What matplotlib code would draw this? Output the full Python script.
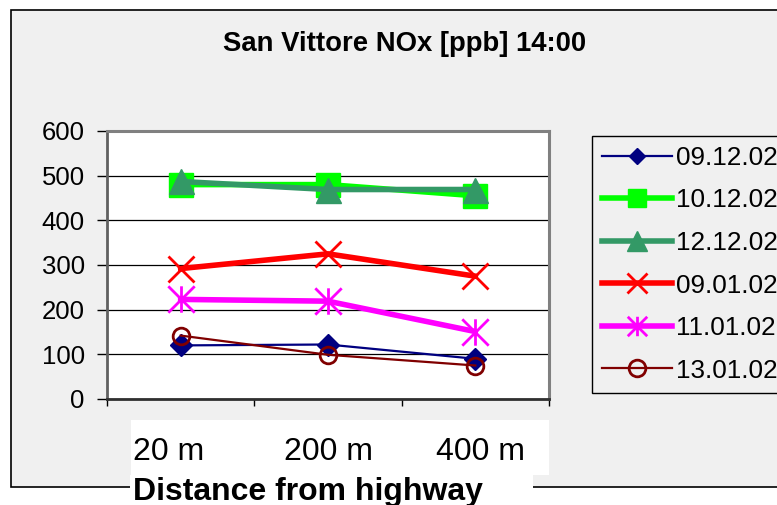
import matplotlib
matplotlib.use("Agg")
import matplotlib.pyplot as plt
from matplotlib.patches import Rectangle
from matplotlib.path import Path
from matplotlib.lines import Line2D
import matplotlib.transforms as mtransforms
import numpy as np

plt.rcParams['font.family'] = ['Liberation Sans', 'DejaVu Sans']

# ---- data ----
distances = ["20 m", "200 m", "400 m"]
dates = ["09.12.02", "10.12.02", "12.12.02", "09.01.02", "11.01.02", "13.01.02"]
s_091202 = [120, 122, 90]
s_101202 = [480, 480, 455]
s_121202 = [487, 469, 469]
s_090102 = [292, 325, 275]
s_110102 = [223, 219, 151]
s_130102 = [142, 99, 75]
series = [s_091202, s_101202, s_121202, s_090102, s_110102, s_130102]
yticks = [0, 100, 200, 300, 400, 500, 600]

W, H = 777, 505
fig = plt.figure(figsize=(W / 100, H / 100), dpi=100)
fig.patch.set_facecolor('white')

def fx(px):
    return px / W

def fy(py):
    return (H - py) / H

# chart area (gray with black border)
fig.patches.append(Rectangle((fx(11), fy(487)), fx(800) - fx(11), fy(10) - fy(487),
                             transform=fig.transFigure, facecolor='#f0f0f0',
                             edgecolor='black', linewidth=1.2, zorder=-10))
# white box behind x tick labels
fig.patches.append(Rectangle((fx(131), fy(475)), fx(549) - fx(131), fy(420) - fy(475),
                             transform=fig.transFigure, facecolor='white',
                             edgecolor='none', zorder=-5))
# white box behind x label
fig.patches.append(Rectangle((fx(130), fy(510)), fx(533) - fx(130), fy(475) - fy(510),
                             transform=fig.transFigure, facecolor='white',
                             edgecolor='none', zorder=-5))

ax = fig.add_axes([fx(107), fy(399), fx(549) - fx(107), fy(131) - fy(399)])
ax.set_facecolor('white')

# asterisk marker
ast = Path([(0, -1), (0, 1), (-1, -1), (1, 1), (-1, 1), (1, -1)],
           [Path.MOVETO, Path.LINETO, Path.MOVETO, Path.LINETO, Path.MOVETO, Path.LINETO])

styles = [
    dict(color='#000080', lw=1.6, marker='D', ms=11, mfc='#000080', mec='#000080'),
    dict(color='#00ff00', lw=4.0, marker='s', ms=17, mfc='#00ff00', mec='#00ff00'),
    dict(color='#339966', lw=4.0, marker='^', ms=18, mfc='#339966', mec='#339966'),
    dict(color='#ff0000', lw=4.0, marker='x', ms=19, mew=2.0, mec='#ff0000'),
    dict(color='#ff00ff', lw=4.0, marker=ast, ms=19, mew=2.0, mec='#ff00ff'),
    dict(color='#800000', lw=1.6, marker='o', ms=12, mew=2.0, mfc='none', mec='#800000'),
]
legend_ms = [8.5, 13.5, 14, 14, 14, 12]

x = np.arange(len(distances))
handles = []
for vals, lab, st, lms in zip(series, dates, styles, legend_ms):
    ax.plot(x, vals, label=lab, solid_joinstyle='miter', clip_on=False, **st)
    st2 = dict(st)
    st2['ms'] = lms
    handles.append(Line2D([], [], **st2))

ax.set_xlim(-0.5, len(distances) - 0.5)
ax.set_ylim(0, 600)
ax.set_yticks(yticks)
ax.set_yticklabels([str(v) for v in yticks])
ax.yaxis.grid(True, color='black', linewidth=0.9)
ax.set_axisbelow(True)
ax.tick_params(axis='y', direction='out', length=7, width=1, pad=9,
               labelsize=18.5, colors='black')

ax.set_xticks(np.arange(-0.5, len(distances)), labels=[])
ax.set_xticks(x, labels=distances, minor=True)
ax.tick_params(axis='x', which='major', direction='out', length=5, width=1)
ax.tick_params(axis='x', which='minor', length=0, pad=27, labelsize=23)
shifts = [-12, 0, 5]
for lbl, dx in zip(ax.xaxis.get_minorticklabels(), shifts):
    lbl.set_transform(lbl.get_transform() +
                      mtransforms.ScaledTranslation(dx / 100, 0, fig.dpi_scale_trans))

for side in ['top', 'right']:
    ax.spines[side].set_color('#808080')
    ax.spines[side].set_linewidth(2.2)
ax.spines['left'].set_color('#606060')
ax.spines['left'].set_linewidth(2.0)
ax.spines['bottom'].set_color('#303030')
ax.spines['bottom'].set_linewidth(2.0)

fig.text(fx(405), fy(44), "San Vittore NOx [ppb] 14:00", ha='center', va='center',
         fontsize=19.8, fontweight='bold')
fig.text(fx(133), fy(500), "Distance from highway", ha='left', va='baseline',
         fontsize=23, fontweight='bold')

leg = fig.legend(handles=handles, labels=dates, loc='upper left',
                 bbox_to_anchor=(fx(592), fy(136)), bbox_transform=fig.transFigure,
                 fontsize=18.8, frameon=True, fancybox=False, edgecolor='black',
                 facecolor='#f0f0f0', framealpha=1, handlelength=2.7,
                 handletextpad=0.12, labelspacing=0.71, borderpad=0.38,
                 borderaxespad=0)
leg.get_frame().set_linewidth(1.0)

fig.savefig("out.png", dpi=100)
